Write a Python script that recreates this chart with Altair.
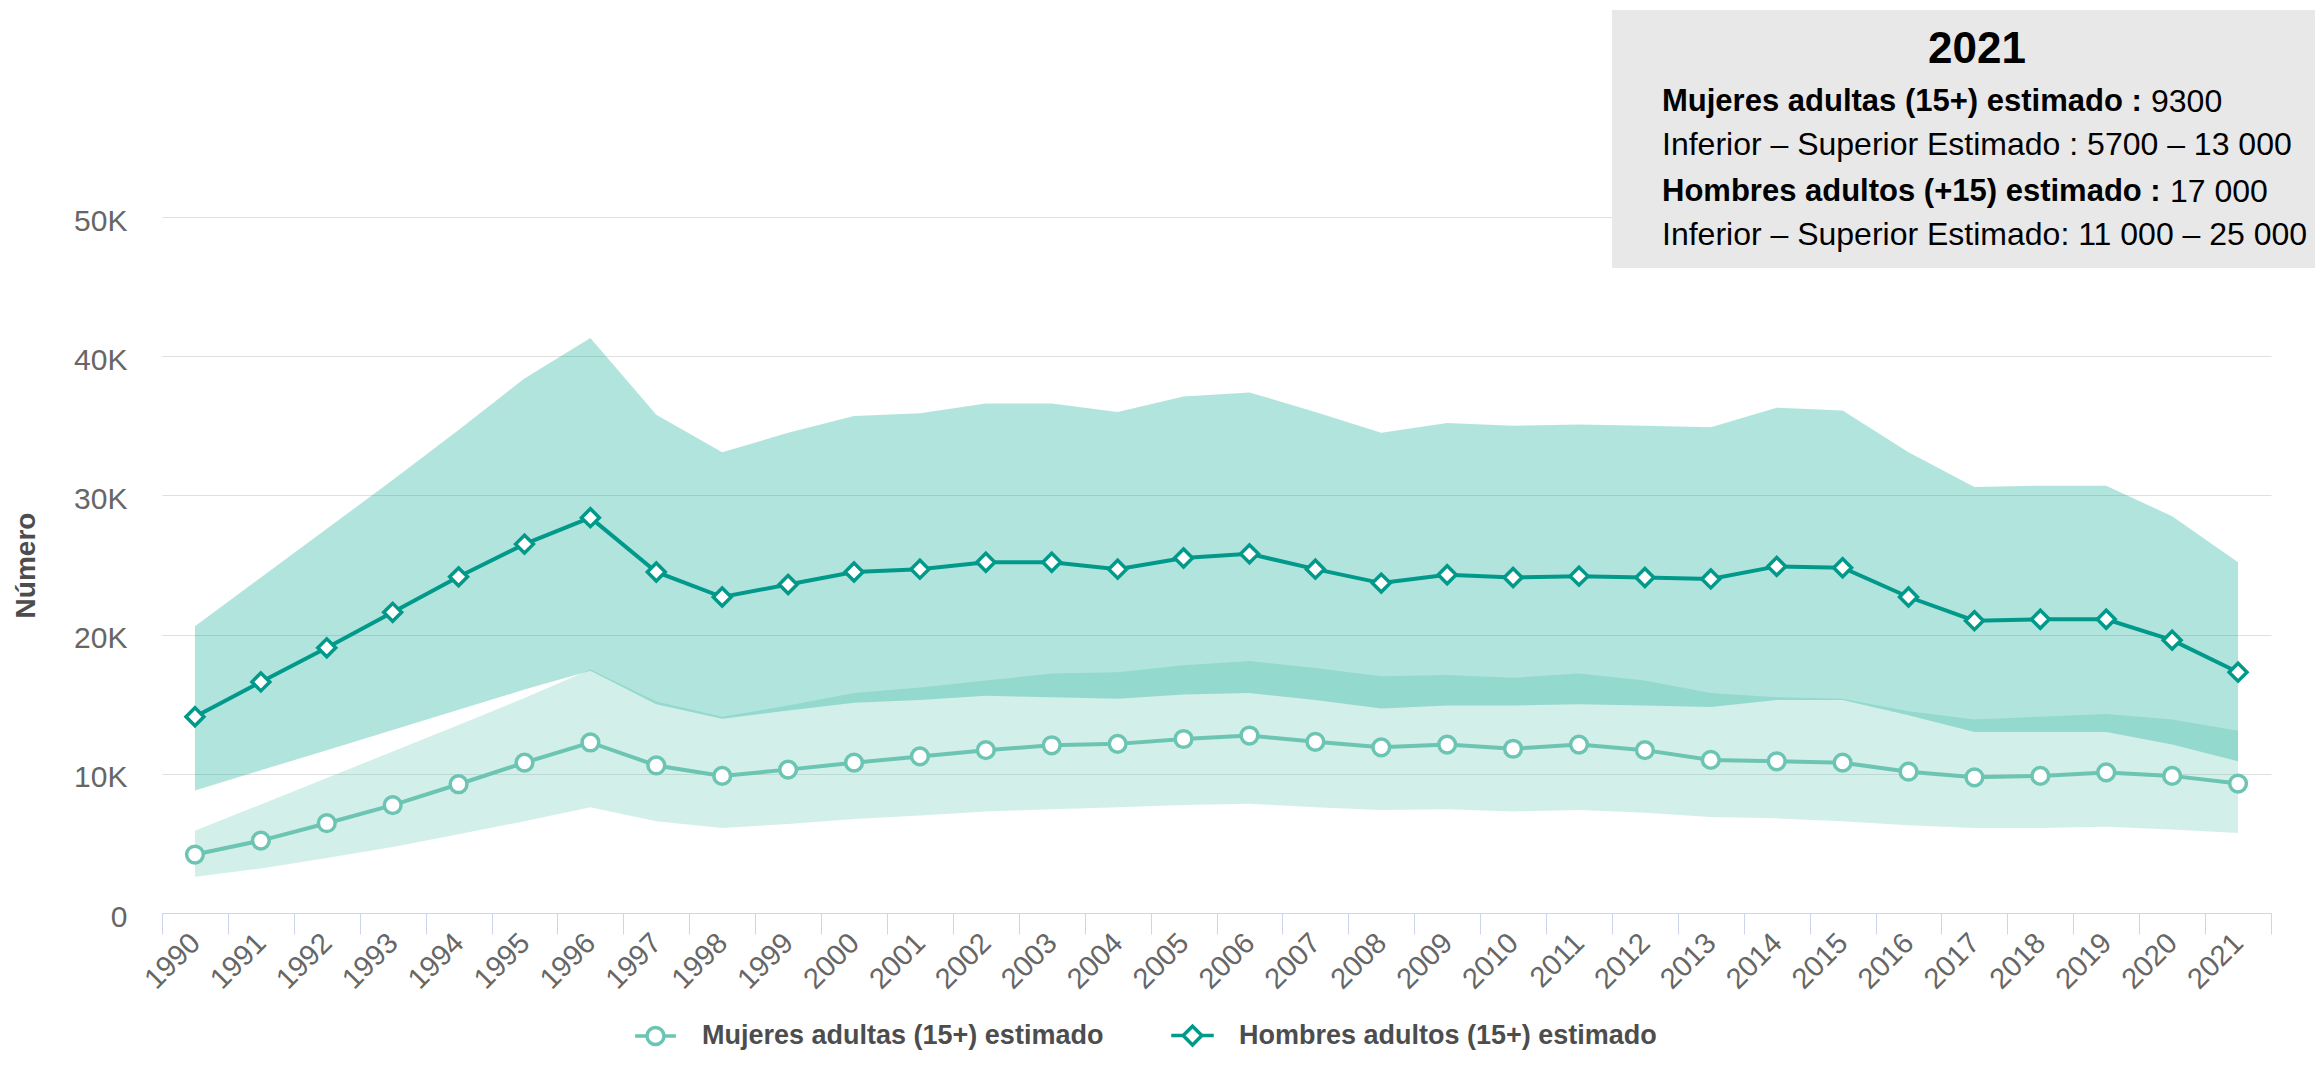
import altair as alt
import pandas as pd

years = list(range(1990, 2022))

# Hombres adultos (15+) estimado, with lower / upper bounds
men_est = [14100, 16600, 19050, 21600, 24150, 26500, 28400, 24500, 22700, 23600,
           24500, 24700, 25200, 25200, 24700, 25500, 25800, 24700, 23700, 24300,
           24100, 24200, 24100, 24000, 24900, 24800, 22700, 21000, 21100, 21100,
           19600, 17300]
men_low = [8800, 10250, 11700, 13150, 14600, 16050, 17400, 15000, 13950, 14550,
           15100, 15300, 15600, 15500, 15400, 15700, 15800, 15300, 14700, 14900,
           14900, 15000, 14900, 14800, 15300, 15300, 14200, 13000, 13000, 13000,
           12100, 10900]
men_up = [20600, 24100, 27600, 31100, 34700, 38400, 41300, 35800, 33100, 34500,
          35700, 35900, 36600, 36600, 36000, 37100, 37400, 36000, 34500, 35200,
          35000, 35100, 35000, 34900, 36300, 36100, 33100, 30600, 30700, 30700,
          28500, 25200]

# Mujeres adultas (15+) estimado, with lower / upper bounds
women_est = [4200, 5200, 6450, 7750, 9250, 10800, 12250, 10600, 9850, 10300,
             10800, 11250, 11700, 12050, 12150, 12500, 12750, 12300, 11900, 12100,
             11800, 12100, 11700, 11000, 10900, 10800, 10150, 9750, 9850, 10100,
             9850, 9300]
women_low = [2600, 3200, 3950, 4750, 5650, 6600, 7600, 6600, 6100, 6400,
             6750, 7000, 7300, 7450, 7600, 7750, 7850, 7600, 7400, 7450,
             7300, 7400, 7200, 6900, 6800, 6600, 6300, 6100, 6100, 6200,
             6000, 5750]
women_up = [5900, 7800, 9700, 11600, 13500, 15450, 17500, 15200, 14100, 14900,
            15800, 16200, 16700, 17200, 17300, 17800, 18100, 17600, 17000, 17100,
            16900, 17200, 16700, 15800, 15500, 15400, 14500, 13900, 14100, 14300,
            13900, 13100]

series_names = ["Mujeres adultas (15+) estimado", "Hombres adultos (15+) estimado"]
y_ticks = [0, 10000, 20000, 30000, 40000, 50000]

box_year = "2021"
box_lines_bold = ["Mujeres adultas (15+) estimado :", None,
                  "Hombres adultos (+15) estimado :", None]
box_lines_reg = ["9300", "Inferior \u2013 Superior Estimado : 5700 \u2013 13 000",
                 "17 000", "Inferior \u2013 Superior Estimado: 11 000 \u2013 25 000"]

df = pd.DataFrame({
    "year": years,
    "men_est": men_est, "men_low": men_low, "men_up": men_up,
    "women_est": women_est, "women_low": women_low, "women_up": women_up,
})

MEN_LINE = "#00998a"
WOMEN_LINE = "#6cc5b3"
MEN_BAND = "#00a591"
WOMEN_BAND = "#4fbea9"
FONT = "Liberation Sans"

x_enc = alt.X(
    "year:O",
    bandPosition=0.5,
    scale=alt.Scale(type="band", paddingInner=0, paddingOuter=0),
    axis=alt.Axis(
        title=None, tickBand="extent", labelAngle=315, labelAlign="right",
        labelBaseline="middle", labelPadding=4, tickSize=21, tickColor="#ccd6eb",
        domainColor="#ccd6eb", domainWidth=1, tickWidth=1, labelColor="#666666",
        labelFontSize=29, labelFont=FONT, grid=False, labelOverlap=False,
    ),
)

y_scale = alt.Scale(domain=[0, 50000], nice=False, zero=True)
y_axis = alt.Axis(
    values=y_ticks,
    labelExpr="datum.value == 0 ? '0' : format(datum.value / 1000, 'd') + 'K'",
    domain=False, ticks=False, grid=True, gridColor="#e0e0e0", gridWidth=1,
    labelColor="#666666", labelFontSize=30, labelFont=FONT, labelPadding=35,
    labelBaseline="middle", labelOffset=4,
    titleFont=FONT, titleFontSize=28, titleFontWeight="bold", titleColor="#4d4d4d",
    titleAngle=270, titleX=-136, titleY=348, titleAlign="center", titleBaseline="middle",
)


def yq(field):
    return alt.Y(f"{field}:Q", title="Número", scale=y_scale, axis=y_axis)


base = alt.Chart(df)

women_band = base.mark_area(color=WOMEN_BAND, opacity=0.25).encode(
    x=x_enc, y=yq("women_low"), y2="women_up:Q")
men_band = base.mark_area(color=MEN_BAND, opacity=0.3).encode(
    x=x_enc, y=yq("men_low"), y2="men_up:Q")

women_line = base.mark_line(color=WOMEN_LINE, strokeWidth=4).encode(
    x=x_enc, y=yq("women_est"))
women_pts = base.mark_point(shape="circle", filled=True, fill="white", stroke=WOMEN_LINE,
                            strokeWidth=3.5, size=280, opacity=1).encode(
    x=x_enc, y=yq("women_est"))
men_line = base.mark_line(color=MEN_LINE, strokeWidth=4).encode(
    x=x_enc, y=yq("men_est"))
men_pts = base.mark_point(shape="diamond", filled=True, fill="white", stroke=MEN_LINE,
                          strokeWidth=3.5, size=320, opacity=1).encode(
    x=x_enc, y=yq("men_est"))

# Legend (driven by scale domains only)
circle_path = "M-2.4,0L-1,0M1,0L2.4,0M-1,0A1,1,0,1,0,1,0A1,1,0,1,0,-1,0"
diamond_path = "M-2.5,0L-1.1,0M1.1,0L2.5,0M-1.1,0L0,-1.1L1.1,0L0,1.1Z"
leg = alt.Legend(
    title=None, orient="none", legendX=480, legendY=805, direction="horizontal",
    labelFont=FONT, labelFontSize=27, labelFontWeight="bold", labelColor="#4d4d4d",
    labelLimit=2000,
    symbolSize=289, symbolStrokeWidth=3.5, labelOffset=33, columnPadding=60,
    symbolFillColor="white",
)
legend_df = pd.DataFrame({"series": series_names})
legend_layer = alt.Chart(legend_df).mark_point(filled=False, opacity=1, strokeWidth=3.5).encode(
    color=alt.Color("series:N", scale=alt.Scale(domain=series_names, range=[WOMEN_LINE, MEN_LINE]),
                    legend=leg),
    shape=alt.Shape("series:N", scale=alt.Scale(domain=series_names, range=[circle_path, diamond_path]),
                    legend=leg),
).transform_filter("false")

# Annotation box
one = pd.DataFrame({"k": [0]})
box = alt.Chart(one).mark_rect(color="#e8e8e8").encode(
    x=alt.value(1450), x2=alt.value(2160), y=alt.value(-207), y2=alt.value(51))
t_year = alt.Chart(one).mark_text(text=box_year, font=FONT, fontSize=44, fontWeight="bold",
                                  color="black", align="center", baseline="middle").encode(
    x=alt.value(1815), y=alt.value(-167))
line_y = [-115, -72, -25, 18]
bold_w = [480, 0, 499, 0]
texts = []
for i in range(4):
    if box_lines_bold[i]:
        texts.append(alt.Chart(one).mark_text(text=box_lines_bold[i], font=FONT, fontSize=31,
                                              fontWeight="bold", color="black", align="left",
                                              baseline="middle").encode(
            x=alt.value(1500), y=alt.value(line_y[i])))
        xr = 1500 + bold_w[i] + 9
    else:
        xr = 1500
    texts.append(alt.Chart(one).mark_text(text=box_lines_reg[i], font=FONT, fontSize=32,
                                          color="black", align="left", baseline="middle").encode(
        x=alt.value(xr), y=alt.value(line_y[i])))

chart = alt.layer(
    women_band, men_band, women_line, men_line, women_pts, men_pts, legend_layer,
    box, t_year, *texts
).properties(
    width=2109, height=696,
    autosize=alt.AutoSizeParams(type="none"),
    padding={"left": 154, "top": 209, "right": 44, "bottom": 145},
    background="white",
).configure_view(stroke=None)

chart.save("out.html", embed_options={"renderer": "svg", "actions": False})
